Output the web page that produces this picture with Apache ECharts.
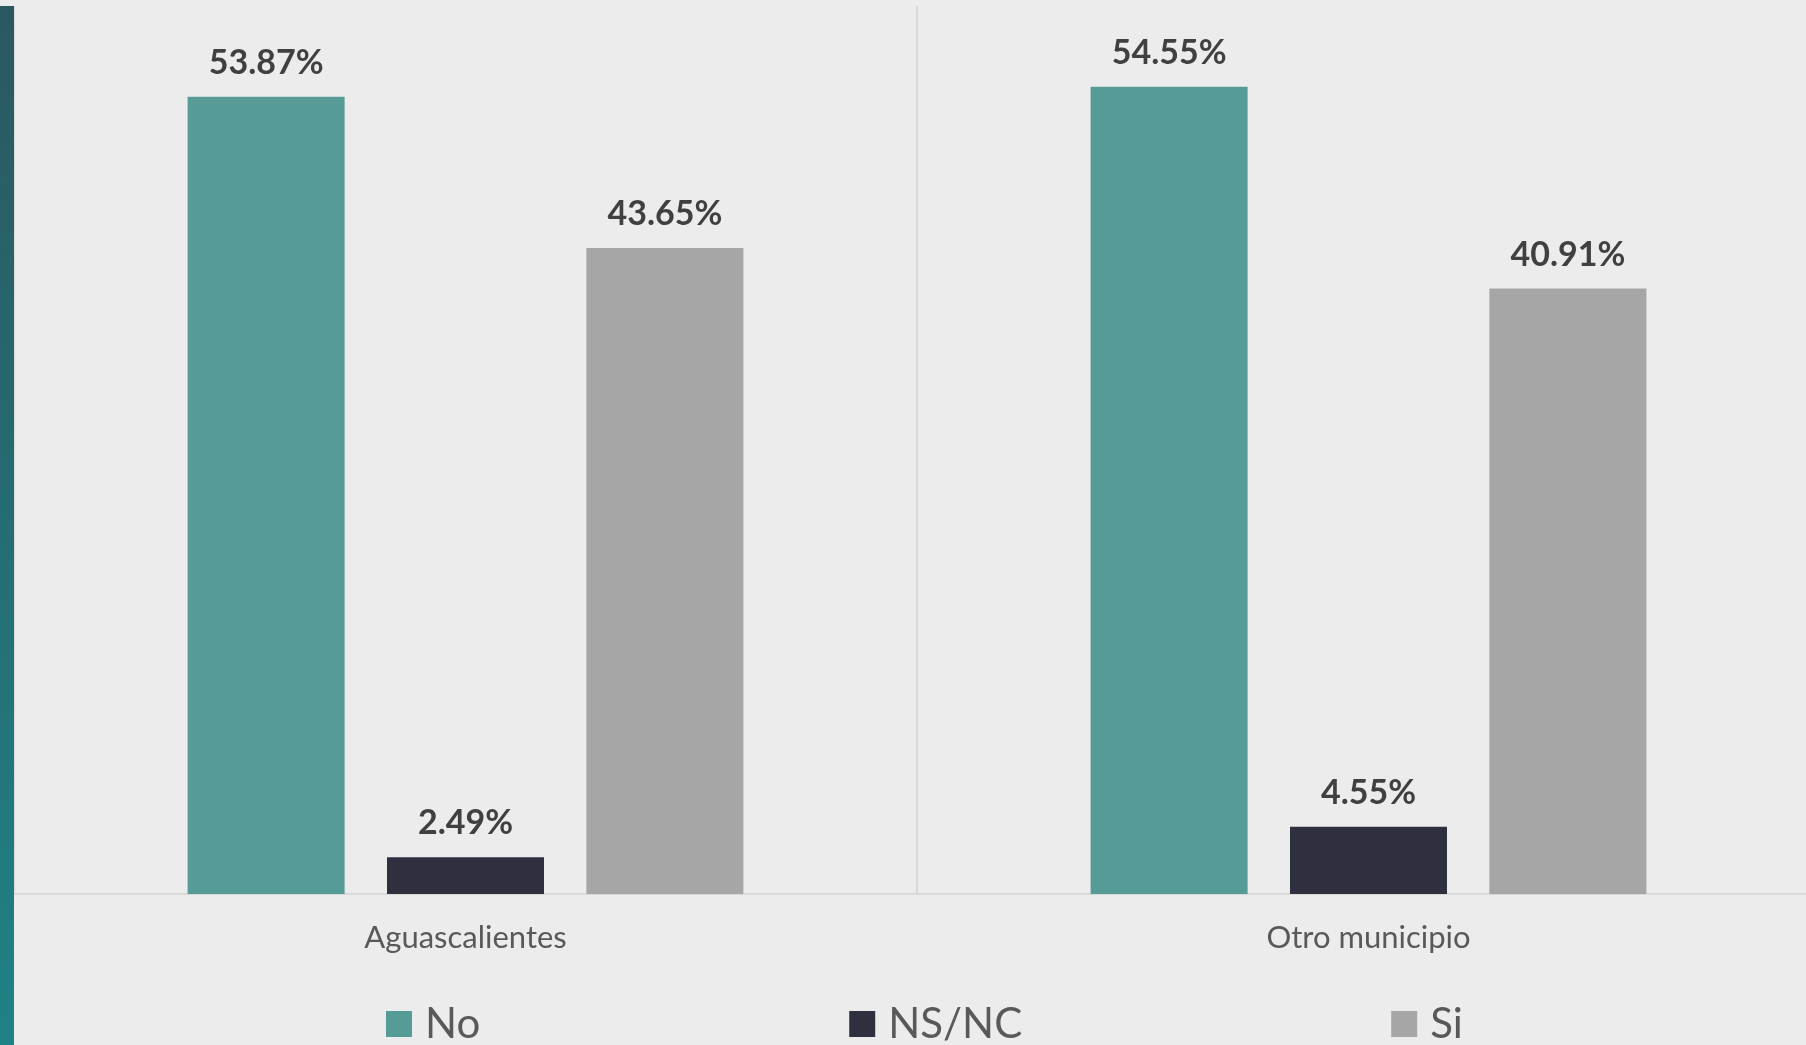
<!DOCTYPE html>
<html>
<head>
<meta charset="utf-8">
<style>
html,body{margin:0;padding:0;background:#ececec;}
#chart{width:1806px;height:1045px;}
</style>
<script src="https://cdn.jsdelivr.net/npm/echarts@6/dist/echarts.min.js"></script>
</head>
<body>
<div id="chart"></div>
<script>
const categories = ['Aguascalientes', 'Otro municipio'];
const seriesNames = ['No', 'NS/NC', 'Si'];
const noValues = [53.87, 54.55];
const nsncValues = [2.49, 4.55];
const siValues = [43.65, 40.91];
const colors = ['#579b96', '#2e3040', '#a6a6a6'];

const chart = echarts.init(document.getElementById('chart'));
const labelCfg = {
  show: true,
  position: 'top',
  distance: 17,
  fontFamily: 'Lato',
  fontWeight: 'bold',
  fontSize: 34,
  color: '#404040',
  formatter: p => p.value.toFixed(2) + '%'
};
const mk = (name, data, color) => ({
  name, type: 'bar', data,
  barWidth: 157, barGap: '27%',
  itemStyle: {color},
  label: labelCfg
});
chart.setOption({
  backgroundColor: '#ececec',
  animation: false,
  graphic: [{
    type: 'rect',
    shape: {x: 0, y: 6, width: 14, height: 1039},
    style: {fill: new echarts.graphic.LinearGradient(0, 0, 0, 1, [
      {offset: 0, color: '#2b5860'},
      {offset: 1, color: '#1f8286'}
    ])},
    z: 10
  }],
  grid: {left: 14, width: 1806, top: 6, height: 888, outerBoundsMode: 'none', containLabel: false},
  legend: {
    data: seriesNames,
    left: 386, top: 1003, padding: 0,
    icon: 'rect', itemWidth: 26, itemHeight: 26, itemGap: 369,
    textStyle: {fontFamily: 'Lato', fontSize: 42, lineHeight: 42, color: '#595959', padding: [0, 0, 0, 8]}
  },
  xAxis: {
    type: 'category',
    data: categories,
    axisLine: {show: true, lineStyle: {color: '#d9d9d9', width: 2}},
    axisTick: {show: false},
    splitLine: {show: true, lineStyle: {color: '#d9d9d9', width: 2}},
    axisLabel: {fontFamily: 'Lato', fontSize: 31, color: '#595959', margin: 28}
  },
  yAxis: {type: 'value', min: 0, max: 60, show: false, splitLine: {show: false}},
  series: [
    mk(seriesNames[0], noValues, colors[0]),
    mk(seriesNames[1], nsncValues, colors[1]),
    mk(seriesNames[2], siValues, colors[2])
  ]
});
</script>
</body>
</html>
